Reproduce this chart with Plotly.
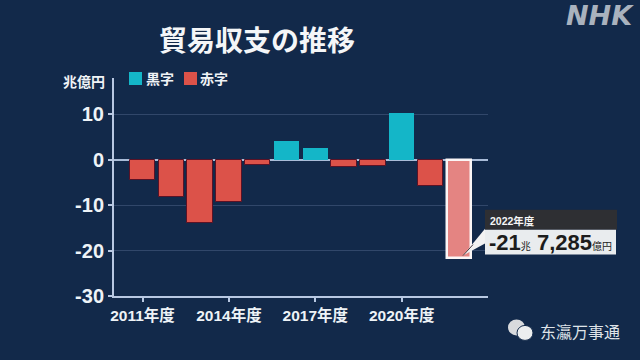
import plotly.graph_objects as go

BG = "#12294a"
FONT = "Liberation Sans, Noto Sans CJK JP, sans-serif"
JP = "Noto Sans CJK JP, sans-serif"

surplus_years = [2016, 2017, 2020]
surplus_values = [4.1, 2.5, 10.2]
deficit_years = [2011, 2012, 2013, 2014, 2015, 2018, 2019, 2021]
deficit_values = [-4.5, -8.3, -13.9, -9.2, -1.1, -1.6, -1.3, -5.7]
highlight_years = [2022]
highlight_values = [-21.7]
x_tick_years = [2011, 2014, 2017, 2020]
x_tick_labels = ["2011年度", "2014年度", "2017年度", "2020年度"]
y_ticks = [10, 0, -10, -20, -30]
y_tick_labels = ["10", "0", "-10", "-20", "-30"]

TEAL = "#14b6c8"
RED = "#dc5249"
L, R, T, B = 114, 488, 78, 296.5


def px(x):
    return (x - L) / (R - L)


def py(y):
    return (B - y) / (B - T)


fig = go.Figure()
fig.add_bar(x=surplus_years, y=surplus_values, name="黒字", width=0.88,
            marker=dict(color=TEAL, line=dict(width=0)))
fig.add_bar(x=deficit_years, y=deficit_values, name="赤字", width=0.88,
            marker=dict(color=RED, line=dict(width=1, color="#5a1226")))
fig.add_bar(x=highlight_years, y=highlight_values, name="2022年度", width=0.84,
            marker=dict(color="#e48482", line=dict(width=2.5, color="#fbf6f6")))

ann = dict(xref="paper", yref="paper", showarrow=False)
annotations = [
    dict(text="<b>貿易収支の推移</b>", x=px(257), y=py(39), xanchor="center", yanchor="middle",
         font=dict(size=28, color="#f4f6f8", family=JP), **ann),
    dict(text="<b><i>NHK</i></b>", x=px(636), y=py(15), xanchor="right", yanchor="middle",
         font=dict(size=27, color="#a9b2be", family="DejaVu Sans"), **ann),
    dict(text="<b>兆億円</b>", x=px(107), y=py(81), xanchor="right", yanchor="middle",
         font=dict(size=14, color="#f0f3f6", family=JP), **ann),
    dict(text="<b>黒字</b>", x=px(144), y=py(78), xanchor="left", yanchor="middle",
         font=dict(size=14, color="#f0f3f6", family=JP), **ann),
    dict(text="<b>赤字</b>", x=px(198), y=py(78), xanchor="left", yanchor="middle",
         font=dict(size=14, color="#f0f3f6", family=JP), **ann),
    dict(text="<b>2022年度</b>", x=px(488), y=py(221), xanchor="left", yanchor="middle",
         font=dict(size=10.5, color="#f5f5f5", family=FONT), **ann),
    dict(text='<b>-21</b><span style="font-size:10px">兆</span><b> 7,285</b><span style="font-size:10px">億円</span>',
         x=px(487), y=py(243), xanchor="left", yanchor="middle",
         font=dict(size=22, color="#1c1c1c", family=FONT), **ann),
    dict(text="东瀛万事通", x=px(538), y=py(332), xanchor="left", yanchor="middle",
         font=dict(size=16, color="#dfe3e8", family=JP), **ann),
]

shapes = [
    dict(type="rect", xref="paper", yref="paper", x0=px(129), x1=px(142), y0=py(72), y1=py(85),
         fillcolor=TEAL, line_width=0, layer="above"),
    dict(type="rect", xref="paper", yref="paper", x0=px(184), x1=px(197), y0=py(72), y1=py(85),
         fillcolor=RED, line_width=0, layer="above"),
    dict(type="rect", xref="paper", yref="paper", x0=px(485), x1=px(617), y0=py(210), y1=py(230),
         fillcolor="#2e2f33", line_width=0, layer="above"),
    dict(type="rect", xref="paper", yref="paper", x0=px(485), x1=px(616), y0=py(230), y1=py(255),
         fillcolor="#e9ecee", line_width=0, layer="above"),
    dict(type="path", xref="paper", yref="paper", layer="above", line_width=0, fillcolor="#f2f2f2",
         path=f"M {px(463)} {py(256)} L {px(485)} {py(229)} L {px(485)} {py(244)} Z"),
    dict(type="line", xref="paper", yref="paper", layer="above", line=dict(color="#4a3a40", width=1),
         x0=px(463), y0=py(256), x1=px(473), y1=py(245)),
    dict(type="circle", xref="paper", yref="paper", layer="above", line_width=0, fillcolor="#d8dadd",
         x0=px(508), x1=px(525), y0=py(320), y1=py(336)),
    dict(type="circle", xref="paper", yref="paper", layer="above", fillcolor="#eceeef",
         line=dict(color=BG, width=1), x0=px(517), x1=px(533), y0=py(326), y1=py(341)),
]

fig.update_layout(
    width=640, height=360, autosize=False,
    margin=dict(l=L, r=640 - R, t=T, b=360 - B),
    paper_bgcolor=BG, plot_bgcolor=BG,
    barmode="overlay", bargap=0,
    font=dict(family=FONT, color="#eef3f7"),
    showlegend=False,
    xaxis=dict(range=[2010.01, 2023], tickmode="array", tickvals=x_tick_years, ticktext=x_tick_labels,
               showgrid=False, zeroline=False, showline=True, linecolor="#b8c8e2", linewidth=2,
               ticks="outside", ticklen=4, tickwidth=1.5, tickcolor="#b8c8e2",
               tickfont=dict(size=15.5, family=FONT, weight="bold", color="#eef3f7"), anchor="y"),
    yaxis=dict(range=[-30, 18], tickmode="array", tickvals=y_ticks, ticktext=y_tick_labels,
               showgrid=True, gridcolor="#31476a", gridwidth=1,
               zeroline=True, zerolinecolor="#a9bcd8", zerolinewidth=1.5,
               showline=True, linecolor="#b8c8e2", linewidth=2,
               ticks="outside", ticklen=4, tickwidth=1.5, tickcolor="#b8c8e2",
               tickfont=dict(size=20, family=FONT, weight="bold", color="#eef3f7")),
    annotations=annotations, shapes=shapes,
)

fig.write_html("out.html", config={"displayModeBar": False},
               post_script="document.body.style.margin='0';document.body.style.background='#12294a';")
